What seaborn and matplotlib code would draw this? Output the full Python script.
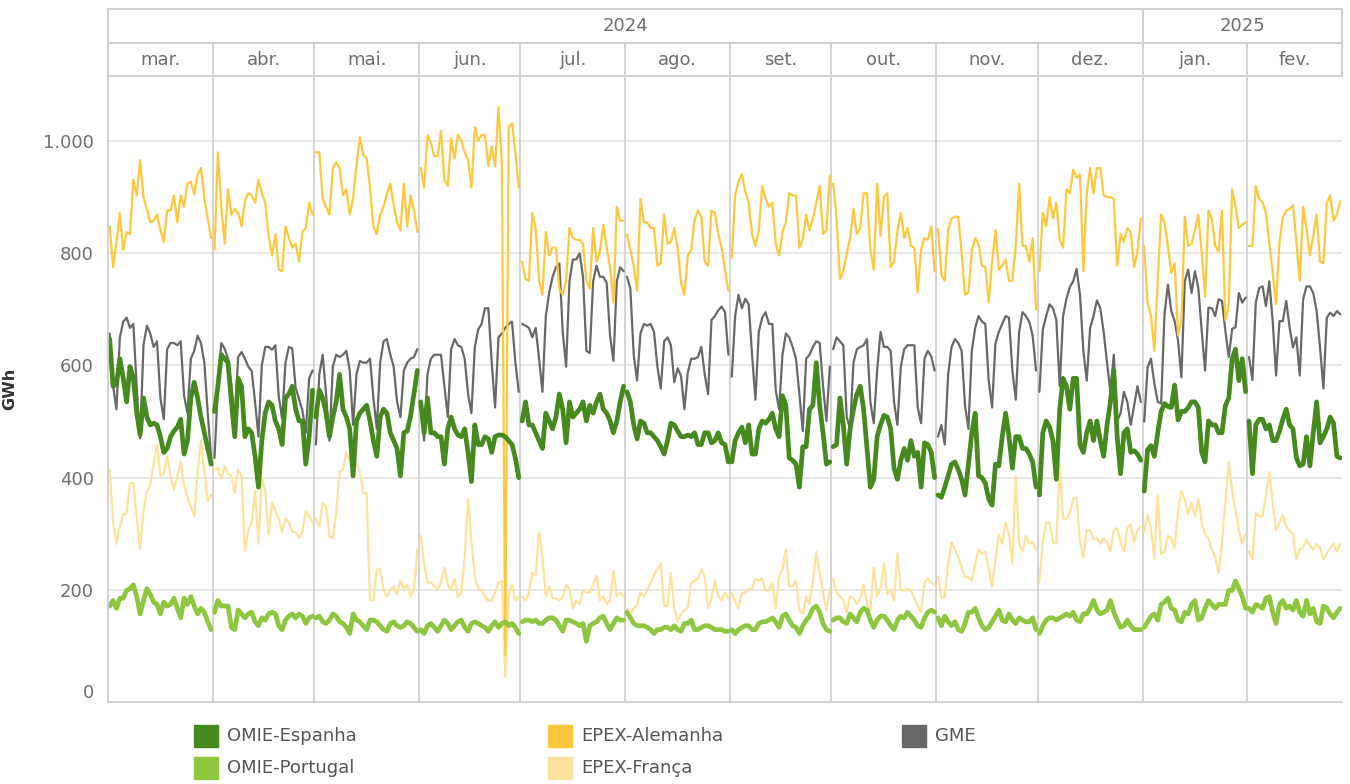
import numpy as np
import pandas as pd
import matplotlib
matplotlib.use("Agg")
import matplotlib.pyplot as plt
from matplotlib.patches import Rectangle
import seaborn as sns

# months shown in the header (Mar 2024 - Feb 2025)
months = ["mar.", "abr.", "mai.", "jun.", "jul.", "ago.", "set.", "out.", "nov.", "dez.", "jan.", "fev."]
month_days = [31, 30, 31, 30, 31, 31, 30, 31, 30, 31, 31, 28]
years = ["2024", "2025"]
months_per_year = [10, 2]

# daily volumes in GWh, one line per month
omie_espanha = [
    647, 563, 566, 612, 577, 535, 598, 577, 515, 476, 542, 508, 494, 497, 494, 473, 445, 452, 473, 483, 490, 504, 442, 466, 542, 570, 542, 508, 480, 452, 424,
    518, 563, 619, 612, 605, 535, 473, 577, 563, 473, 487, 480, 438, 383, 466, 515, 535, 529, 501, 487, 459, 542, 549, 563, 522, 501, 501, 424, 473, 556,
    508, 556, 542, 515, 473, 508, 535, 584, 522, 508, 487, 403, 501, 515, 522, 529, 501, 466, 438, 508, 522, 515, 480, 466, 452, 403, 480, 483, 510, 550, 591,
    535, 480, 542, 480, 480, 473, 473, 424, 487, 508, 487, 476, 473, 487, 445, 393, 494, 459, 459, 473, 469, 445, 473, 476, 476, 473, 466, 459, 435, 400,
    501, 535, 494, 494, 480, 466, 452, 515, 501, 487, 508, 549, 522, 462, 535, 508, 515, 522, 535, 501, 529, 515, 535, 549, 522, 515, 501, 480, 501, 535, 563,
    553, 535, 494, 469, 501, 497, 480, 480, 473, 466, 455, 442, 466, 497, 494, 483, 473, 473, 476, 473, 480, 459, 459, 480, 480, 462, 466, 480, 462, 459, 428,
    428, 466, 480, 490, 462, 494, 442, 442, 487, 501, 497, 504, 515, 487, 473, 546, 529, 435, 431, 424, 383, 455, 455, 522, 529, 605, 529, 480, 424, 428,
    455, 459, 542, 494, 424, 487, 522, 549, 563, 522, 452, 383, 397, 473, 494, 511, 508, 487, 417, 397, 431, 452, 431, 466, 438, 445, 383, 462, 459, 445, 400,
    369, 365, 383, 403, 424, 428, 414, 397, 369, 424, 480, 515, 403, 400, 390, 362, 351, 424, 421, 473, 515, 473, 417, 473, 473, 452, 452, 442, 428, 383,
    369, 480, 501, 490, 466, 397, 522, 577, 563, 522, 577, 577, 459, 445, 480, 501, 466, 501, 466, 438, 494, 535, 591, 473, 407, 480, 487, 445, 448, 442, 431,
    376, 450, 457, 438, 480, 518, 532, 527, 525, 565, 503, 518, 518, 525, 535, 535, 525, 445, 428, 501, 494, 494, 480, 480, 528, 542, 612, 629, 573, 612, 553,
    501, 407, 494, 504, 504, 487, 494, 466, 466, 483, 504, 522, 494, 487, 435, 421, 424, 473, 421, 480, 535, 462, 473, 487, 508, 497, 438, 435,
]
omie_portugal = [
    171, 181, 167, 185, 185, 199, 202, 209, 188, 157, 181, 202, 192, 178, 174, 157, 178, 171, 174, 185, 167, 150, 185, 174, 188, 171, 157, 167, 160, 143, 129,
    160, 181, 171, 171, 171, 133, 129, 164, 157, 150, 157, 160, 143, 136, 150, 146, 157, 160, 157, 136, 129, 146, 153, 157, 150, 157, 153, 140, 150, 153,
    150, 153, 143, 140, 146, 157, 153, 143, 140, 133, 122, 157, 146, 143, 136, 129, 146, 146, 143, 136, 129, 126, 140, 143, 136, 133, 136, 143, 140, 133, 126,
    129, 122, 136, 140, 133, 126, 136, 146, 140, 129, 136, 143, 146, 133, 126, 140, 143, 140, 136, 133, 126, 136, 143, 133, 140, 143, 136, 140, 133, 122,
    143, 146, 146, 143, 146, 140, 140, 146, 150, 150, 146, 136, 126, 146, 146, 143, 140, 136, 140, 108, 136, 140, 143, 150, 153, 140, 129, 140, 150, 146, 146,
    160, 150, 140, 136, 136, 136, 133, 129, 122, 129, 129, 133, 133, 129, 136, 129, 126, 140, 140, 146, 129, 129, 133, 136, 136, 133, 129, 129, 129, 126, 126,
    129, 122, 129, 133, 136, 136, 129, 129, 140, 143, 143, 146, 150, 143, 133, 153, 157, 146, 136, 133, 122, 136, 146, 153, 167, 171, 160, 140, 129, 126,
    146, 150, 150, 143, 140, 157, 150, 143, 160, 167, 164, 146, 133, 146, 153, 153, 146, 136, 129, 146, 153, 150, 160, 153, 146, 136, 133, 150, 160, 164, 160,
    150, 136, 153, 143, 136, 143, 129, 126, 140, 160, 160, 167, 150, 136, 129, 133, 143, 153, 164, 146, 143, 157, 146, 140, 150, 146, 143, 143, 150, 129,
    122, 136, 146, 150, 150, 146, 150, 153, 157, 153, 160, 146, 143, 157, 157, 167, 181, 164, 157, 160, 164, 181, 160, 146, 133, 136, 146, 136, 129, 129, 129,
    133, 143, 153, 157, 146, 174, 178, 185, 167, 164, 146, 143, 160, 157, 174, 181, 146, 150, 167, 181, 174, 167, 174, 174, 174, 199, 199, 216, 202, 188, 167,
    167, 160, 174, 171, 167, 185, 188, 160, 140, 174, 181, 167, 171, 164, 181, 160, 153, 181, 157, 167, 143, 140, 171, 167, 157, 150, 160, 167,
]
epex_alemanha = [
    848, 775, 820, 872, 806, 838, 834, 931, 903, 966, 900, 879, 855, 858, 869, 841, 820, 876, 876, 903, 855, 903, 883, 924, 928, 905, 941, 952, 897, 862, 827,
    806, 980, 883, 817, 914, 869, 879, 872, 848, 893, 907, 903, 890, 931, 907, 890, 831, 796, 834, 771, 768, 848, 827, 810, 817, 785, 838, 845, 890, 869,
    980, 980, 897, 883, 869, 952, 962, 952, 903, 914, 869, 897, 959, 1007, 976, 969, 917, 848, 834, 869, 883, 907, 924, 886, 855, 841, 924, 848, 903, 876, 838,
    952, 917, 1011, 997, 973, 973, 1018, 931, 920, 1004, 969, 1011, 1001, 980, 966, 917, 1025, 1000, 1011, 1011, 955, 990, 955, 1060, 960, 84, 1025, 1032, 980, 917,
    785, 754, 751, 872, 845, 751, 726, 838, 796, 810, 810, 737, 726, 751, 845, 827, 824, 824, 817, 751, 737, 845, 785, 803, 851, 810, 775, 712, 883, 858, 858,
    834, 806, 778, 733, 897, 855, 855, 845, 845, 778, 782, 869, 817, 820, 845, 810, 747, 726, 796, 806, 858, 876, 865, 785, 778, 876, 872, 834, 810, 771, 733,
    792, 903, 928, 941, 910, 890, 834, 813, 841, 920, 897, 883, 890, 817, 796, 838, 855, 907, 903, 903, 810, 824, 869, 841, 862, 890, 920, 834, 841, 938,
    924, 862, 754, 768, 800, 827, 879, 834, 845, 907, 907, 806, 771, 924, 831, 900, 907, 775, 785, 841, 872, 827, 845, 813, 810, 730, 806, 827, 824, 848, 768,
    844, 761, 751, 841, 862, 865, 865, 800, 726, 730, 803, 827, 817, 778, 775, 712, 785, 841, 771, 778, 789, 751, 751, 813, 924, 813, 813, 785, 827, 700,
    768, 872, 848, 900, 862, 890, 824, 810, 914, 907, 949, 934, 941, 768, 907, 952, 907, 952, 952, 903, 900, 900, 897, 778, 834, 820, 845, 838, 775, 803, 862,
    813, 712, 688, 626, 751, 869, 855, 813, 765, 782, 654, 681, 865, 813, 817, 841, 869, 800, 723, 876, 862, 813, 803, 876, 681, 706, 914, 883, 845, 851, 855,
    813, 813, 920, 897, 890, 872, 817, 765, 709, 820, 865, 876, 879, 886, 820, 751, 883, 845, 796, 831, 869, 785, 782, 890, 903, 858, 869, 893,
]
epex_franca = [
    414, 320, 282, 313, 334, 337, 390, 390, 327, 272, 341, 376, 386, 424, 459, 403, 407, 438, 403, 379, 403, 428, 386, 365, 348, 331, 410, 466, 410, 358, 369,
    414, 417, 397, 421, 407, 403, 372, 414, 403, 268, 306, 320, 376, 282, 400, 376, 299, 355, 341, 327, 303, 327, 320, 303, 303, 292, 303, 341, 331, 320,
    327, 313, 355, 348, 296, 292, 337, 410, 414, 445, 431, 428, 424, 410, 372, 372, 181, 181, 237, 237, 199, 188, 199, 206, 192, 216, 202, 209, 188, 202, 272,
    296, 247, 213, 213, 206, 202, 213, 240, 209, 199, 220, 188, 195, 258, 362, 285, 223, 202, 199, 188, 181, 181, 195, 213, 216, 45, 188, 209, 181, 188,
    188, 181, 195, 230, 226, 303, 258, 188, 206, 185, 185, 181, 188, 209, 202, 167, 181, 174, 199, 195, 195, 209, 226, 181, 188, 174, 181, 233, 188, 195, 188,
    167, 157, 167, 174, 195, 188, 199, 213, 226, 237, 247, 171, 171, 230, 167, 143, 157, 164, 167, 213, 216, 220, 237, 223, 167, 185, 216, 188, 181, 195, 185,
    195, 178, 167, 195, 195, 202, 202, 220, 216, 220, 199, 199, 213, 167, 223, 237, 272, 206, 206, 216, 164, 157, 188, 174, 216, 268, 230, 195, 164, 202,
    220, 195, 188, 181, 160, 188, 185, 174, 185, 209, 174, 164, 240, 188, 202, 247, 192, 199, 181, 265, 199, 199, 202, 199, 185, 171, 160, 213, 220, 213, 209,
    223, 185, 188, 247, 285, 272, 258, 240, 223, 223, 216, 247, 272, 264, 268, 237, 206, 254, 299, 282, 320, 299, 247, 403, 282, 268, 296, 282, 285, 272,
    213, 285, 320, 320, 285, 282, 424, 327, 327, 337, 362, 365, 285, 258, 306, 306, 289, 292, 282, 292, 285, 268, 306, 310, 285, 268, 310, 317, 285, 306, 313,
    303, 334, 310, 254, 369, 264, 268, 296, 292, 275, 341, 376, 362, 334, 355, 331, 362, 320, 299, 292, 272, 258, 230, 285, 355, 428, 376, 341, 306, 282, 299,
    268, 254, 337, 331, 331, 369, 410, 355, 306, 320, 334, 313, 306, 299, 254, 272, 275, 289, 278, 272, 282, 275, 254, 264, 275, 282, 268, 282,
]
gme = [
    657, 563, 522, 650, 678, 685, 667, 674, 560, 470, 636, 671, 657, 633, 643, 542, 504, 629, 640, 640, 636, 643, 546, 515, 612, 626, 653, 640, 605, 515, 435,
    435, 560, 640, 630, 612, 565, 500, 615, 624, 612, 598, 590, 535, 473, 600, 633, 633, 628, 636, 545, 505, 605, 633, 630, 560, 540, 520, 480, 577, 591,
    459, 584, 619, 549, 466, 598, 619, 615, 619, 626, 591, 494, 584, 608, 605, 605, 612, 542, 487, 605, 643, 647, 619, 598, 535, 508, 591, 605, 612, 615, 629,
    525, 466, 584, 612, 619, 619, 619, 563, 508, 629, 647, 636, 633, 612, 549, 515, 633, 664, 674, 702, 702, 605, 525, 650, 657, 667, 674, 678, 605, 553,
    674, 671, 667, 650, 667, 612, 553, 688, 730, 758, 775, 782, 660, 598, 750, 789, 789, 800, 758, 626, 622, 750, 778, 758, 758, 747, 653, 608, 750, 775, 768,
    758, 737, 619, 573, 657, 674, 671, 674, 660, 598, 559, 643, 650, 636, 570, 595, 581, 522, 588, 612, 612, 615, 633, 584, 549, 681, 688, 698, 705, 695, 619,
    580, 688, 726, 702, 719, 709, 619, 539, 660, 685, 695, 674, 674, 556, 522, 619, 657, 650, 633, 612, 549, 483, 612, 619, 633, 643, 640, 563, 501, 598,
    629, 650, 643, 636, 508, 487, 605, 629, 633, 636, 647, 535, 497, 591, 660, 633, 633, 626, 535, 494, 598, 629, 636, 636, 636, 525, 497, 612, 626, 616, 591,
    473, 494, 459, 584, 633, 647, 640, 626, 528, 487, 626, 667, 688, 678, 674, 573, 525, 640, 660, 674, 688, 685, 591, 539, 660, 695, 688, 678, 653, 591,
    553, 664, 688, 709, 702, 681, 563, 688, 719, 740, 750, 772, 726, 626, 573, 667, 688, 716, 702, 660, 605, 553, 619, 501, 515, 553, 535, 494, 528, 563, 535,
    500, 597, 612, 568, 535, 532, 691, 744, 697, 679, 644, 579, 750, 771, 729, 768, 738, 662, 591, 703, 702, 688, 718, 715, 662, 615, 665, 668, 729, 712, 721,
    615, 574, 712, 738, 741, 706, 750, 679, 582, 679, 679, 715, 668, 632, 650, 582, 718, 741, 741, 729, 697, 632, 559, 685, 694, 688, 697, 691,
]

series = {
    "OMIE-Espanha": omie_espanha,
    "OMIE-Portugal": omie_portugal,
    "EPEX-Alemanha": epex_alemanha,
    "EPEX-França": epex_franca,
    "GME": gme,
}
colors = {
    "OMIE-Espanha": "#46891f",
    "OMIE-Portugal": "#8dc63f",
    "EPEX-Alemanha": "#fec83e",
    "EPEX-França": "#fce29c",
    "GME": "#686868",
}
widths = {
    "OMIE-Espanha": 3.4,
    "OMIE-Portugal": 3.4,
    "EPEX-Alemanha": 1.6,
    "EPEX-França": 1.6,
    "GME": 1.6,
}

# x position of each day: one pane per month, lines broken between months
offsets = np.concatenate([[0], np.cumsum(month_days)[:-1]])
x_day = np.concatenate([off + np.arange(n) + 0.5 for off, n in zip(offsets, month_days)])
month_id = np.repeat(np.arange(len(months)), month_days)
total_days = int(sum(month_days))

df = pd.concat(
    [pd.DataFrame({"x": x_day, "GWh": vals, "mes": month_id, "serie": name}) for name, vals in series.items()],
    ignore_index=True,
)

sns.set_theme(style="white")
plt.rcParams["font.family"] = ["DejaVu Sans"]

W, H = 1350, 784
fig = plt.figure(figsize=(W / 100, H / 100), dpi=100)
ax = fig.add_axes([108 / W, (H - 702) / H, 1234 / W, 626 / H])

grid_col = "#e6e6e6"
line_col = "#d0d0d0"
text_col = "#6e6e6e"

ax.set_xlim(0, total_days)
ax.set_ylim(0, 1116)
for v in range(200, 1001, 200):
    ax.axhline(v, color=grid_col, lw=1.3, zorder=0)
for off in offsets[1:]:
    ax.axvline(off, color=line_col, lw=1.3, zorder=0.5)

draw_order = ["EPEX-França", "GME", "EPEX-Alemanha", "OMIE-Portugal", "OMIE-Espanha"]
sns.lineplot(data=df, x="x", y="GWh", hue="serie", hue_order=draw_order, palette=colors,
             size="serie", size_order=draw_order, sizes=widths, units="mes", estimator=None,
             legend=False, ax=ax)

yt = list(range(0, 1001, 200))
ax.set_yticks(yt)
ax.set_yticklabels([f"{v:,}".replace(",", ".") for v in yt])
ax.get_yticklabels()[0].set_va("bottom")
ax.tick_params(axis="y", length=6, width=1.3, color=grid_col, pad=4, labelsize=13, labelcolor=text_col)
ax.set_xticks([])
ax.set_xlabel("")
ax.set_ylabel("GWh", fontsize=11.5, color="#333333", fontweight="semibold")
ax.yaxis.set_label_coords(-(108 - 17) / 1234, 0.5)
for side in ["top", "right"]:
    ax.spines[side].set_visible(False)
for side in ["left", "bottom"]:
    ax.spines[side].set_color(line_col)
    ax.spines[side].set_linewidth(1.3)

# two-row header: years on top, months below
hax = fig.add_axes([108 / W, (H - 76) / H, 1234 / W, 67 / H])
hax.set_xlim(0, total_days)
hax.set_ylim(0, 2)
hax.axis("off")
for yy in [0, 1, 2]:
    hax.plot([0, total_days], [yy, yy], color=line_col, lw=1.5, clip_on=False)
for xx in [0, total_days]:
    hax.plot([xx, xx], [0, 2], color=line_col, lw=1.5, clip_on=False)
for off in offsets[1:]:
    hax.plot([off, off], [0, 1], color=line_col, lw=1.3, clip_on=False)
for off, n, lab in zip(offsets, month_days, months):
    hax.text(off + n / 2, 0.48, lab, ha="center", va="center", fontsize=13, color=text_col)
start = 0
for yr, nm in zip(years, months_per_year):
    end = start + nm
    x0 = offsets[start]
    x1 = offsets[end] if end < len(offsets) else total_days
    if start > 0:
        hax.plot([x0, x0], [1, 2], color=line_col, lw=1.5, clip_on=False)
    hax.text((x0 + x1) / 2, 1.5, yr, ha="center", va="center", fontsize=13, color=text_col)
    start = end

# legend, three columns and two rows
legend_items = [
    ("OMIE-Espanha", 194, 736), ("OMIE-Portugal", 194, 768),
    ("EPEX-Alemanha", 548, 736), ("EPEX-França", 548, 768),
    ("GME", 902, 736),
]
for name, px, py in legend_items:
    fig.patches.append(Rectangle((px / W, (H - py - 11) / H), 24 / W, 22 / H,
                                 transform=fig.transFigure, color=colors[name]))
    fig.text((px + 33) / W, (H - py) / H, name, ha="left", va="center", fontsize=13, color="#555555")

fig.savefig("out.png", dpi=100)
